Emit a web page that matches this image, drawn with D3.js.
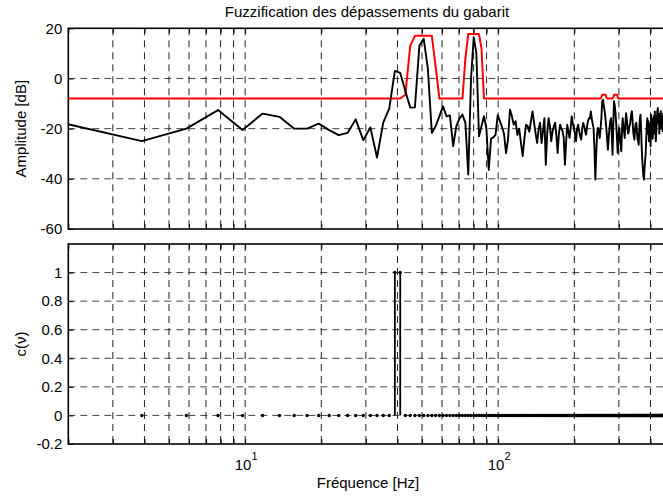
<!DOCTYPE html>
<html><head><meta charset="utf-8">
<script src="https://cdn.jsdelivr.net/npm/d3@7"></script>
<style>
body{margin:0;background:#fff;}
svg{display:block;font-family:"Liberation Sans",Arial,sans-serif;}
</style></head><body>
<svg id="chart" width="663" height="499"></svg>
<script>
// ---- data ----
const sampleRate = 1000;      // Hz
const fftSize = 512;          // bins: f_k = k * sampleRate / fftSize, k = 1..256
const binIndex = d3.range(1, 257);

const amplitudeDb = [
 -18,-25,-20,-12.6,-20.5,-14,-15.3,-20,-20,-18,
 -20.6,-22.6,-21.7,-16.3,-24.6,-19.5,-31.5,-17.5,-12,3,
 2.2,-5,-11.6,-11.5,13,15.8,4,-21.7,-19,-15,
 -11.1,-15.1,-14.7,-27,-19,-16,-14.4,-17.7,-38.3,0,
 16.5,10,-23,-19,-15,-20,-36.5,-24,-23.5,-22.5,
 -14.6,-17,-19.2,-22,-29.8,-24.4,-12.4,-15,-18.4,-17,
 -22.5,-20,-25.7,-31,-24,-18.4,-19,-21.2,-17,-13.1,
 -17.6,-22,-25.7,-20,-17.6,-25.7,-21,-15.8,-34.4,-22,
 -15.8,-19,-25,-21,-19,-17.6,-23,-29.7,-22,-18.4,
 -20,-21,-23.7,-34.4,-25.7,-18.4,-21,-23.7,-20,-15.1,
 -18,-19.7,-22,-25,-20,-18.4,-21,-23,-24.4,-20,
 -17.7,-19,-21,-22.4,-19,-17,-15.8,-16,-13.1,-16,
 -18,-19.7,-28,-40.3,-30,-22,-19.7,-21,-23.7,-20,
 -15.8,-9,-8.5,-11,-13.1,-16,-19.7,-24,-28.4,-24,
 -19.7,-17,-15.8,-22,-30.4,-18,-9.1,-11,-14,-18.4,
 -24,-29.7,-24,-19.7,-23,-26,-29,-21,-15.8,-19,
 -21,-23.7,-18,-13.8,-16,-19,-22,-21.2,-19,-18.4,
 -16,-14,-13.1,-17,-21,-23,-24.4,-20,-18,-17.6,
 -21,-24,-25,-26.4,-20,-16,-14.4,-20,-27,-32.4,
 -36,-39,-40.3,-36,-33,-30,-24,-19,-15.8,-22,
 -17,-25,-23.7,-18,-27,-14.4,-20,-16,-24,-19.7,
 -15,-22,-13.1,-19,-25,-21.2,-16,-13,-11.8,-18,
 -14,-22,-16,-18.4,-13,-20,-15,-15,-21,-14,
 -19,-19.7,-13,-17,-14,-16,-18,-20,-17,-15,
 -19,-22,-18,-16,-14,-17,-20,-18,-15,-13,
 -16,-19,-21,-17,-15,-18
];

const gabaritDb = [
 -8,-8,-8,-8,-8,-8,-8,-8,-8,-8,
 -8,-8,-8,-8,-8,-8,-8,-8,-8,-8,
 -8,-6.5,13,17,17,17,17,17,4.5,-8,
 -8,-8,-8,-8,-8,-8,-8,8,17.7,17.7,
 17.7,17.7,17.7,12,-8,-8,-8,-8,-8,-8,
 -8,-8,-8,-8,-8,-8,-8,-8,-8,-8,
 -8,-8,-8,-8,-8,-8,-8,-8,-8,-8,
 -8,-8,-8,-8,-8,-8,-8,-8,-8,-8,
 -8,-8,-8,-8,-8,-8,-8,-8,-8,-8,
 -8,-8,-8,-8,-8,-8,-8,-8,-8,-8,
 -8,-8,-8,-8,-8,-8,-8,-8,-8,-8,
 -8,-8,-8,-8,-8,-8,-8,-8,-8,-8,
 -8,-8,-8,-8,-8,-8,-8,-8,-8,-8,
 -7.5,-6.5,-6.5,-6.5,-6.5,-6.5,-7.5,-8,-8,-8,
 -8,-8,-8,-8,-8,-7.5,-6.5,-6.5,-6.5,-6.5,
 -6.5,-7.5,-8,-8,-8,-8,-8,-8,-8,-8,
 -8,-8,-8,-8,-8,-8,-8,-8,-8,-8,
 -8,-8,-8,-8,-8,-8,-8,-8,-8,-8,
 -8,-8,-8,-8,-8,-8,-8,-8,-8,-8,
 -8,-8,-8,-8,-8,-8,-8,-8,-8,-8,
 -8,-8,-8,-8,-8,-8,-8,-8,-8,-8,
 -8,-8,-8,-8,-8,-8,-8,-8,-8,-8,
 -8,-8,-8,-8,-8,-8,-8,-8,-8,-8,
 -8,-8,-8,-8,-8,-8,-8,-8,-8,-8,
 -8,-8,-8,-8,-8,-8,-8,-8,-8,-8,
 -8,-8,-8,-8,-8,-8
];

const fuzzyC = [
 0,0,0,0,0,0,0,0,0,0, 0,0,0,0,0,0,0,0,0,1,
 1,0,0,0,0,0,0,0,0,0, 0,0,0,0,0,0,0,0,0,0,
 0,0,0,0,0,0,0,0,0,0, 0,0,0,0,0,0,0,0,0,0,
 0,0,0,0,0,0,0,0,0,0, 0,0,0,0,0,0,0,0,0,0,
 0,0,0,0,0,0,0,0,0,0, 0,0,0,0,0,0,0,0,0,0,
 0,0,0,0,0,0,0,0,0,0, 0,0,0,0,0,0,0,0,0,0,
 0,0,0,0,0,0,0,0,0,0, 0,0,0,0,0,0,0,0,0,0,
 0,0,0,0,0,0,0,0,0,0, 0,0,0,0,0,0,0,0,0,0,
 0,0,0,0,0,0,0,0,0,0, 0,0,0,0,0,0,0,0,0,0,
 0,0,0,0,0,0,0,0,0,0, 0,0,0,0,0,0,0,0,0,0,
 0,0,0,0,0,0,0,0,0,0, 0,0,0,0,0,0,0,0,0,0,
 0,0,0,0,0,0,0,0,0,0, 0,0,0,0,0,0,0,0,0,0,
 0,0,0,0,0,0,0,0,0,0, 0,0,0,0,0,0
];

const ampTicks = [-60, -40, -20, 0, 20];
const ampTickLabels = ["-60", "-40", "-20", "0", "20"];
const cTicks = [-0.2, 0, 0.2, 0.4, 0.6, 0.8, 1];
const cTickLabels = ["-0.2", "0", "0.2", "0.4", "0.6", "0.8", "1"];
const freqTicks = [2,3,4,5,6,7,8,9,10,20,30,40,50,60,70,80,90,100,200,300,400,500];
const freqDecadeLabels = [{v:10, base:"10", exp:"1"}, {v:100, base:"10", exp:"2"}];
const titleText = "Fuzzification des dépassements du gabarit";
const xLabelText = "Fréquence [Hz]";
const yLabelTop = "Amplitude [dB]";
const yLabelBottom = "c(\u03BD)";

// ---- layout ----
const svg = d3.select("#chart");
const L = 68.3, R = 675;
const x = d3.scaleLog().domain([2, 500]).range([L, R]);
const freqs = binIndex.map(k => k * sampleRate / fftSize);

const panels = [
  {id:"top", y: d3.scaleLinear().domain([-60, 20]).range([229, 28.3]), ticks: ampTicks, labels: ampTickLabels, label: yLabelTop},
  {id:"bot", y: d3.scaleLinear().domain([-0.2, 1.2]).range([444, 244]), ticks: cTicks, labels: cTickLabels, label: yLabelBottom}
];

const fontSize = 15;

panels.forEach(p => {
  const [y0, y1] = p.y.range(); // bottom, top
  const g = svg.append("g");
  const clipId = "clip-" + p.id;
  svg.append("clipPath").attr("id", clipId).append("rect")
    .attr("x", L).attr("y", y1).attr("width", R - L).attr("height", y0 - y1);

  // grid
  const grid = g.append("g").attr("clip-path", `url(#${clipId})`);
  grid.selectAll("line.hg").data(p.ticks.filter(t => p.y(t) > y1 + 1 && p.y(t) < y0 - 1)).join("line")
    .attr("x1", L).attr("x2", R).attr("y1", d => p.y(d)).attr("y2", d => p.y(d))
    .attr("stroke", "#444").attr("stroke-width", 1).attr("stroke-dasharray", "7,5");
  grid.selectAll("line.vg").data(freqTicks.filter(f => x(f) > L + 1)).join("line")
    .attr("x1", d => x(d)).attr("x2", d => x(d)).attr("y1", y1).attr("y2", y0)
    .attr("stroke", "#222").attr("stroke-width", 1).attr("stroke-dasharray", "7,5");

  // y axis (inward ticks)
  const ay = g.append("g").attr("transform", `translate(${L},0)`)
    .call(d3.axisLeft(p.y).tickValues(p.ticks).tickSizeInner(-5).tickSizeOuter(0).tickPadding(6)
      .tickFormat((d, i) => p.labels[i]));
  ay.select(".domain").remove();
  ay.selectAll("line").attr("stroke", "#000");
  ay.selectAll("text").attr("font-size", fontSize).attr("font-family", "Liberation Sans, Arial, sans-serif").attr("fill", "#000");

  // x ticks bottom and top (inward)
  const axb = g.append("g").attr("transform", `translate(0,${y0})`)
    .call(d3.axisBottom(x).tickValues(freqTicks).tickSizeInner(-5).tickSizeOuter(0).tickFormat(""));
  axb.select(".domain").remove();
  const axt = g.append("g").attr("transform", `translate(0,${y1})`)
    .call(d3.axisTop(x).tickValues(freqTicks).tickSizeInner(-5).tickSizeOuter(0).tickFormat(""));
  axt.select(".domain").remove();

  // border
  g.append("rect").attr("x", L).attr("y", y1).attr("width", R - L).attr("height", y0 - y1)
    .attr("fill", "none").attr("stroke", "#000").attr("stroke-width", 1.6);

  // y label
  svg.append("text").attr("transform", `translate(26,${(y0 + y1) / 2}) rotate(-90)`)
    .attr("text-anchor", "middle").attr("font-size", fontSize).text(p.label);

  p.clipId = clipId;
});

// ---- top panel lines ----
const topPanel = panels[0];
const plotTop = svg.append("g").attr("clip-path", `url(#${topPanel.clipId})`);
const lineAmp = d3.line().x((d, i) => x(freqs[i])).y(d => topPanel.y(d));
plotTop.append("path").datum(gabaritDb).attr("d", lineAmp)
  .attr("fill", "none").attr("stroke", "#ff0000").attr("stroke-width", 2).attr("stroke-linejoin", "round");
plotTop.append("path").datum(amplitudeDb).attr("d", lineAmp)
  .attr("fill", "none").attr("stroke", "#000").attr("stroke-width", 1.9).attr("stroke-linejoin", "round");

// ---- bottom panel stems ----
const botPanel = panels[1];
const plotBot = svg.append("g").attr("clip-path", `url(#${botPanel.clipId})`);
const stems = fuzzyC.map((v, i) => ({f: freqs[i], v}));
plotBot.selectAll("line.stem").data(stems.filter(d => d.v !== 0)).join("line")
  .attr("x1", d => x(d.f)).attr("x2", d => x(d.f))
  .attr("y1", botPanel.y(0)).attr("y2", d => botPanel.y(d.v))
  .attr("stroke", "#000").attr("stroke-width", 1.8);
plotBot.selectAll("circle").data(stems).join("circle")
  .attr("cx", d => x(d.f)).attr("cy", d => botPanel.y(d.v)).attr("r", 1.7).attr("fill", "#000");

// ---- x tick labels (bottom panel) ----
const xl = svg.append("g");
freqDecadeLabels.forEach(d => {
  const t = xl.append("text").attr("x", x(d.v) + 1).attr("y", 470).attr("text-anchor", "middle")
    .attr("font-size", fontSize);
  t.append("tspan").text(d.base);
  t.append("tspan").attr("dy", -10).attr("font-size", 11).text(d.exp);
});

// title and x label
svg.append("text").attr("x", 367).attr("y", 16.5).attr("text-anchor", "middle")
  .attr("font-size", fontSize).text(titleText);
svg.append("text").attr("x", 368).attr("y", 488).attr("text-anchor", "middle")
  .attr("font-size", fontSize).text(xLabelText);
</script>
</body></html>
